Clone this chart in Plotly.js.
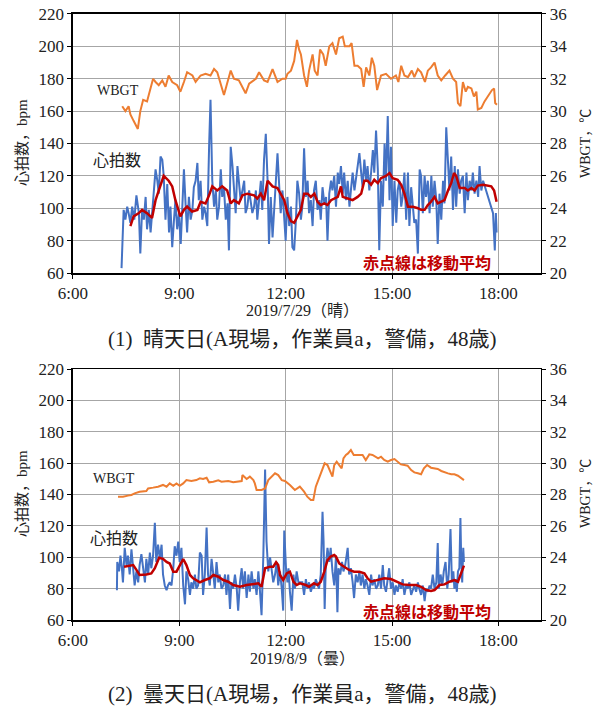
<!DOCTYPE html>
<html><head><meta charset="utf-8">
<script src="https://cdn.plot.ly/plotly-3.0.1.min.js"></script>
<style>body{margin:0;background:#fff}#c{width:603px;height:706px}</style>
</head><body><div id="c"></div>
<script>
// ---- (1) 晴天日 2019/7/29 ----
const t1Hr=[7.37,7.43,7.48,7.53,7.57,7.62,7.67,7.73,7.79,7.86,7.90,7.95,8.00,8.05,8.09,8.14,8.19,8.23,8.28,8.33,8.38,8.42,8.47,8.52,8.56,8.61,8.66,8.71,8.75,8.80,8.85,8.89,8.94,8.99,9.04,9.08,9.13,9.18,9.22,9.27,9.32,9.37,9.41,9.46,9.51,9.55,9.60,9.65,9.70,9.74,9.79,9.84,9.88,9.93,9.98,10.03,10.07,10.12,10.17,10.21,10.26,10.31,10.36,10.40,10.45,10.50,10.54,10.59,10.64,10.69,10.73,10.78,10.83,10.87,10.92,10.97,11.06,11.11,11.16,11.20,11.25,11.30,11.34,11.39,11.44,11.49,11.53,11.58,11.63,11.67,11.72,11.77,11.82,11.86,11.91,11.96,12.00,12.05,12.10,12.15,12.19,12.24,12.29,12.33,12.38,12.43,12.47,12.52,12.57,12.62,12.66,12.71,12.76,12.80,12.85,12.90,12.95,12.99,13.04,13.09,13.14,13.18,13.23,13.28,13.32,13.37,13.42,13.47,13.51,13.56,13.61,13.65,13.70,13.75,13.80,13.84,13.89,13.94,13.98,14.03,14.08,14.13,14.17,14.22,14.27,14.31,14.36,14.41,14.46,14.50,14.55,14.60,14.64,14.69,14.74,14.79,14.83,14.88,14.93,14.97,15.02,15.07,15.12,15.16,15.21,15.26,15.30,15.35,15.40,15.45,15.49,15.54,15.59,15.63,15.68,15.73,15.78,15.82,15.87,15.92,15.96,16.01,16.06,16.11,16.15,16.20,16.25,16.29,16.34,16.39,16.44,16.48,16.53,16.58,16.62,16.67,16.72,16.77,16.81,16.86,16.91,16.95,17.00,17.05,17.10,17.14,17.19,17.24,17.28,17.33,17.38,17.43,17.47,17.52,17.57,17.85,17.90,17.93,17.95];
const v1Hr=[63,99,93,101,97,91,101,93,108,97,72,99,93,107,87,99,85,97,109,124,117,109,132,130,120,93,115,85,101,76,93,105,87,97,78,101,124,101,85,107,93,99,113,117,128,105,117,93,101,97,89,138,167,117,101,111,93,101,124,107,113,93,103,74,138,126,111,97,126,115,105,111,117,97,101,111,97,101,111,93,105,117,99,130,146,117,78,107,82,97,117,134,113,97,111,93,80,107,89,101,76,74,93,117,109,93,101,137,107,117,97,105,89,111,117,99,105,93,113,103,107,80,109,117,111,120,101,122,115,126,109,122,105,117,101,111,122,111,117,126,134,122,113,130,117,126,111,122,136,122,148,124,74,117,101,140,117,157,105,138,89,117,91,111,117,101,107,122,93,122,89,113,101,91,93,72,124,120,97,120,107,117,97,120,101,117,105,78,109,93,117,103,150,126,111,132,99,126,101,124,109,117,120,97,122,105,117,111,122,109,117,107,126,111,117,97,74,97,85];
const t1Ma=[7.62,7.71,7.86,7.95,8.09,8.23,8.33,8.42,8.56,8.70,8.80,8.89,9.03,9.13,9.22,9.36,9.51,9.60,9.74,9.84,9.93,10.07,10.21,10.35,10.45,10.54,10.68,10.78,10.92,11.11,11.20,11.30,11.39,11.49,11.63,11.77,11.86,11.96,12.05,12.15,12.24,12.33,12.43,12.52,12.62,12.71,12.81,12.90,12.99,13.09,13.18,13.28,13.37,13.47,13.56,13.61,13.75,13.89,14.03,14.13,14.22,14.31,14.41,14.50,14.60,14.69,14.83,14.93,15.02,15.16,15.26,15.35,15.45,15.59,15.73,15.82,15.92,16.01,16.10,16.20,16.29,16.39,16.48,16.58,16.67,16.75,16.81,16.91,17.05,17.14,17.24,17.33,17.42,17.57,17.80,17.88,17.92,17.95];
const v1Ma=[89,95,97,99,97,94,105,111,120,117,113.5,105,95,99,101,98,99,104,103,108,113.5,111,113.5,111,103,105,103,108,109,108,106,109,105,117,113.5,112.5,109,105,97,92,91,95,99,109,109,107,109,104,102,103,102,105,106,107,113.5,107,106,105,107,109,117,117,114.5,117.6,115.5,118.6,120,121.7,118.6,117.6,114.5,109,101,101,100,99,99,102,104,107,103,104,105,111,115.5,121.7,120,112.5,112.5,111,112.5,111,114,114.5,113.5,111,107,104];
const t1Wb=[7.39,7.48,7.57,7.62,7.71,7.83,7.90,7.98,8.09,8.17,8.26,8.33,8.42,8.52,8.61,8.70,8.80,8.94,9.03,9.13,9.22,9.37,9.46,9.60,9.74,9.88,9.98,10.07,10.17,10.26,10.36,10.45,10.54,10.68,10.87,10.97,11.16,11.25,11.39,11.49,11.63,11.77,11.91,12.00,12.05,12.15,12.24,12.32,12.38,12.43,12.52,12.60,12.66,12.76,12.82,12.90,12.97,13.06,13.13,13.23,13.32,13.42,13.51,13.61,13.67,13.80,13.86,13.94,14.03,14.13,14.20,14.27,14.36,14.43,14.50,14.58,14.69,14.83,14.97,15.11,15.18,15.26,15.35,15.45,15.56,15.63,15.73,15.82,15.93,16.01,16.10,16.20,16.29,16.39,16.50,16.62,16.72,16.81,16.86,16.93,17.00,17.08,17.14,17.24,17.31,17.38,17.42,17.52,17.61,17.71,17.82,17.88,17.91,17.96];
const v1Wb=[30.3,30.0,30.3,29.8,29.4,28.9,30.0,30.7,30.6,31.2,32.0,31.8,31.6,31.9,31.5,32.2,31.8,31.6,31.2,31.8,32.4,32.2,31.8,32.2,32.3,32.2,32.6,32.4,31.6,31.0,31.8,32.5,32.0,31.9,31.1,31.7,32.0,32.4,31.9,31.8,32.6,31.8,32.0,32.0,32.3,32.5,33.1,34.4,33.8,33.5,32.2,31.5,32.5,33.5,32.5,32.2,33.8,33.5,32.8,34.0,34.2,33.5,34.5,34.6,34.0,34.0,34.2,32.8,32.8,32.6,31.5,32.7,32.2,33.3,32.8,31.3,32.2,32.3,32.0,32.2,31.8,32.8,32.2,32.1,32.5,32.1,32.6,32.4,31.8,32.5,32.7,33.0,32.2,31.9,32.2,32.5,32.0,31.8,30.5,30.3,31.8,31.2,31.5,31.4,30.9,31.2,30.1,30.2,30.6,30.9,31.3,31.4,30.5,30.4];

// ---- (2) 曇天日 2019/8/9 ----
const t2Hr=[7.24,7.25,7.30,7.34,7.38,7.41,7.46,7.51,7.55,7.60,7.65,7.70,7.74,7.79,7.84,7.88,7.93,7.98,8.03,8.07,8.12,8.17,8.21,8.26,8.31,8.35,8.40,8.45,8.50,8.54,8.59,8.64,8.68,8.73,8.78,8.83,8.87,8.92,8.97,9.01,9.06,9.11,9.16,9.20,9.25,9.30,9.34,9.39,9.44,9.48,9.53,9.58,9.63,9.67,9.72,9.77,9.81,9.86,9.91,9.96,10.00,10.05,10.10,10.14,10.19,10.24,10.29,10.33,10.38,10.43,10.47,10.52,10.57,10.62,10.66,10.71,10.76,10.80,10.85,10.90,10.95,10.99,11.04,11.09,11.13,11.18,11.23,11.27,11.32,11.37,11.42,11.46,11.51,11.56,11.60,11.65,11.70,11.75,11.79,11.84,11.89,11.93,11.96,12.01,12.05,12.08,12.12,12.17,12.22,12.26,12.31,12.36,12.47,12.52,12.57,12.61,12.66,12.71,12.76,12.80,12.85,12.90,12.94,12.99,13.04,13.07,13.10,13.13,13.18,13.23,13.27,13.32,13.37,13.42,13.46,13.49,13.54,13.59,13.63,13.68,13.75,13.79,13.84,13.89,13.93,13.98,14.03,14.08,14.12,14.17,14.22,14.26,14.31,14.36,14.41,14.45,14.50,14.55,14.60,14.64,14.69,14.74,14.78,14.83,14.88,14.92,14.97,15.02,15.07,15.11,15.16,15.21,15.26,15.30,15.35,15.40,15.44,15.49,15.54,15.59,15.63,15.68,15.73,15.77,15.82,15.87,15.92,15.96,16.01,16.06,16.10,16.15,16.20,16.25,16.29,16.32,16.37,16.42,16.46,16.51,16.56,16.60,16.65,16.69,16.73,16.76,16.79,16.83,16.86,16.90,16.93,16.95,16.98,17.01,17.03];
const v2Hr=[79,97,91,101,93,84,106,95,101,89,105,93,82,91,84,95,102,93,84,99,89,103,93,101,122,97,108,99,108,89,82,79,82,84,82,93,107,101,110,97,106,82,70,91,86,76,84,80,89,80,82,103,101,76,89,119,89,82,99,89,80,97,84,89,80,82,89,76,89,67,84,80,89,80,66,84,93,80,91,74,89,78,91,80,86,76,91,80,63,101,156,110,91,100,93,84,89,97,82,91,80,66,117,93,84,93,78,66,89,80,91,84,84,76,86,80,84,78,82,80,86,82,80,89,129,110,67,93,106,97,106,91,82,101,65,93,89,97,91,95,106,89,93,84,74,89,84,91,82,89,80,86,82,76,89,82,86,80,82,89,80,95,82,78,86,93,80,84,76,82,78,84,80,86,76,82,80,84,76,80,82,78,84,80,76,82,72,80,78,82,80,89,80,84,109,80,89,82,91,97,80,89,118,84,91,80,86,78,91,93,125,101,84,106,97];
const t2Ma=[7.44,7.55,7.70,7.79,7.88,8.07,8.21,8.31,8.43,8.54,8.64,8.73,8.83,8.92,9.01,9.11,9.20,9.30,9.39,9.48,9.58,9.72,9.86,9.96,10.10,10.24,10.38,10.52,10.71,10.90,11.09,11.23,11.32,11.42,11.56,11.65,11.73,11.79,11.84,11.93,12.03,12.12,12.22,12.31,12.40,12.57,12.66,12.80,12.90,12.99,13.09,13.18,13.27,13.37,13.42,13.51,13.65,13.79,13.93,14.08,14.22,14.31,14.41,14.59,14.78,14.97,15.16,15.30,15.49,15.68,15.82,15.96,16.10,16.20,16.34,16.48,16.62,16.76,16.86,16.91,17.00,17.03];
const v2Ma=[94,94.6,95,92,88.7,89,89.7,93,99.7,99,97,96,90.8,90.8,95,98.9,95,88.7,86.6,85.5,84,85.5,86.6,88.7,87.6,85.5,84.4,82.3,81.2,82.3,82.7,83.4,81.2,93,94,94,96.8,95,88.7,85.5,89.7,90.8,84.4,82.3,83.4,82.3,81.2,83.4,82.3,84.4,90.8,98.2,100.4,101.4,100.4,96.1,94,91.9,90.8,90.8,89.7,86.6,84.4,85.5,86.6,86.1,84.4,82.7,82.3,82.3,81.2,79.1,78.5,79.1,82.3,82.7,84.4,85.5,84.4,87.6,93,94.7];
const t2Wb=[7.27,7.41,7.55,7.65,7.74,7.88,8.07,8.12,8.26,8.40,8.54,8.64,8.73,8.83,8.92,9.01,9.11,9.20,9.34,9.48,9.58,9.67,9.77,9.84,9.96,10.10,10.19,10.29,10.38,10.52,10.66,10.76,10.78,10.90,10.99,11.09,11.13,11.18,11.32,11.42,11.51,11.60,11.70,11.79,11.89,11.98,12.12,12.26,12.40,12.52,12.61,12.71,12.78,12.85,12.94,13.04,13.10,13.18,13.25,13.32,13.37,13.44,13.51,13.58,13.63,13.70,13.76,13.84,13.92,14.03,14.17,14.26,14.36,14.45,14.55,14.61,14.69,14.78,14.88,14.97,15.07,15.16,15.25,15.35,15.44,15.54,15.63,15.73,15.82,15.90,15.99,16.10,16.20,16.29,16.39,16.48,16.58,16.67,16.76,16.86,16.95,17.03];
const v2Wb=[27.86,27.86,27.93,27.97,28.07,28.18,28.22,28.39,28.44,28.50,28.61,28.50,28.71,28.56,28.71,28.56,28.71,28.92,28.86,28.92,29.03,28.99,29.07,28.78,28.82,28.90,28.82,28.82,28.86,28.78,28.82,28.86,29.24,28.99,29.14,28.92,28.71,28.29,28.29,28.39,28.92,29.14,29.35,29.24,28.92,28.86,28.61,28.29,28.50,28.18,27.86,27.65,27.65,28.50,29.03,29.67,29.99,29.88,29.46,29.14,29.88,30.09,29.88,29.67,30.31,30.52,30.62,30.84,30.52,30.52,30.52,30.20,30.56,30.52,30.41,30.31,30.41,30.20,30.09,30.20,30.26,30.09,29.92,29.88,29.84,29.56,29.41,29.35,29.29,29.67,29.88,29.71,29.67,29.63,29.50,29.41,29.35,29.29,29.29,29.20,29.03,28.92];

// ---- axis ticks / labels ----
const xTickVals=[6,9,12,15,18];
const xTickText=['6:00','9:00','12:00','15:00','18:00'];
const xRange=[6,19.2];
const hrRange=[60,220];
const wbRange=[20,36];

const BLUE='#4472C4', ORANGE='#ED7D31', RED='#C00000';
const SERIF='"Liberation Serif","Noto Sans CJK JP",serif';
const JP='"Liberation Serif","Noto Sans CJK JP",serif';

function line(x,y,xa,ya,color,w){
  return {x:x,y:y,xaxis:xa,yaxis:ya,type:'scatter',mode:'lines',
    line:{color:color,width:w},hoverinfo:'skip'};
}
const data=[
  line(t1Hr,v1Hr,'x','y',BLUE,2),
  line(t1Ma,v1Ma,'x','y',RED,2.5),
  line(t1Wb,v1Wb,'x','y2',ORANGE,2),
  line(t2Hr,v2Hr,'x2','y3',BLUE,2),
  line(t2Ma,v2Ma,'x2','y3',RED,2.5),
  line(t2Wb,v2Wb,'x2','y4',ORANGE,2)
];

const tf={family:SERIF,size:17,color:'#222'};
function xax(anchor){
  return {domain:[0.121,0.897],range:xRange,anchor:anchor,tickmode:'array',
    tickvals:xTickVals,ticktext:xTickText,showgrid:true,gridcolor:'#a6a6a6',gridwidth:1,
    showline:true,linecolor:'#000',linewidth:1.5,mirror:true,ticks:'outside',ticklen:4,
    tickcolor:'#000',zeroline:false,tickfont:tf,fixedrange:true};
}
function yl(dom,anchor){
  return {domain:dom,range:hrRange,dtick:20,tick0:60,anchor:anchor,showgrid:true,
    gridcolor:'#a6a6a6',gridwidth:1,showline:true,linecolor:'#000',linewidth:1.5,mirror:true,
    ticks:'outside',ticklen:4,tickcolor:'#000',zeroline:false,tickfont:tf,fixedrange:true};
}
function yr(over,anchor){
  return {overlaying:over,side:'right',anchor:anchor,range:wbRange,dtick:2,tick0:20,
    showgrid:false,showline:true,linecolor:'#000',linewidth:1.5,ticks:'outside',ticklen:4,
    tickcolor:'#000',zeroline:false,tickfont:tf,fixedrange:true};
}
function ann(text,px,py,size,opt){
  return Object.assign({text:text,x:px/603,y:1-py/706,xref:'paper',yref:'paper',
    showarrow:false,xanchor:'center',yanchor:'middle',
    font:{family:JP,size:size,color:'#222'}},opt||{});
}
const redFont={family:'"Noto Sans CJK JP",sans-serif',size:16,color:RED,weight:700};
const layout={
  width:603,height:706,margin:{l:0,r:0,t:0,b:0},paper_bgcolor:'#fff',plot_bgcolor:'#fff',
  showlegend:false,
  xaxis:xax('y'),yaxis:yl([0.6133,0.9802],'x'),yaxis2:yr('y','x'),
  xaxis2:xax('y3'),yaxis3:yl([0.1218,0.4773],'x2'),yaxis4:yr('y3','x2'),
  annotations:[
    ann('心拍数，bpm',22,143,15,{textangle:-90}),
    ann('WBGT，℃',585,144,14,{textangle:-90}),
    ann('心拍数，bpm',22,494,15,{textangle:-90}),
    ann('WBGT，℃',585,494,14,{textangle:-90}),
    ann('WBGT',118,90,14),
    ann('心拍数',117,161,16),
    ann('WBGT',114,478,14),
    ann('心拍数',114,538,16),
    ann('赤点線は移動平均',427,262,16,{font:redFont}),
    ann('赤点線は移動平均',427,611,16,{font:redFont}),
    ann('2019/7/29（晴）',302,311,16),
    ann('2019/8/9（曇）',302,658,16),
    ann('(1)  晴天日(A現場，作業員a，警備，48歳)',302,339,21),
    ann('(2)  曇天日(A現場，作業員a，警備，48歳)',302,694,21)
  ]
};
Plotly.newPlot('c',data,layout,{staticPlot:true,displayModeBar:false});
</script>
</body></html>
